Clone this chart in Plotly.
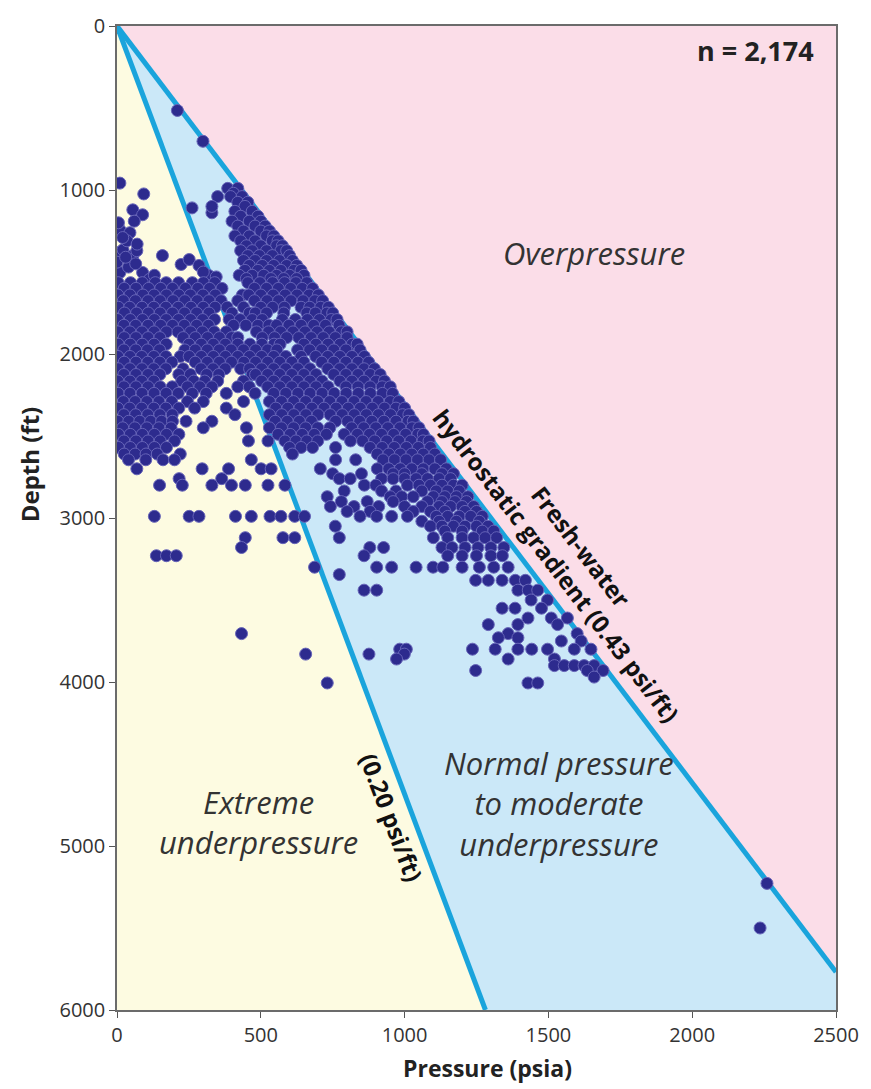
import plotly.graph_objects as go

# ---------------- data ----------------
x_ticks = [0, 500, 1000, 1500, 2000, 2500]
y_ticks = [0, 1000, 2000, 3000, 4000, 5000, 6000]
hydro_gradient = 0.4334   # psi/ft, fresh-water hydrostatic line as drawn
low_gradient = 0.2135     # psi/ft, line labelled (0.20 psi/ft) as drawn
p_max = 2500
d_max = 6000

# isolated shallow points (pressure psia, depth ft)
shallow_pts = [(210, 515), (299, 703), (10, 958), (93, 1024), (55, 1121), (89, 1151),
               (10, 1242), (45, 1260), (0, 1382), (21, 1364), (55, 1400), (69, 1370),
               (158, 1400), (223, 1454), (251, 1424), (285, 1460), (319, 1521), (10, 1503),
               (89, 1503), (113, 1545), (261, 1109), (330, 1139), (35, 1310), (0, 1440),
               (40, 1470), (60, 1190), (300, 1500), (345, 1530), (20, 1290), (70, 1330),
               (5, 1200), (30, 1410), (65, 1450), (130, 1520)]

# wedge just left of the hydrostatic line (depth, pressures)
wedge_rows = [(990, [385, 420]), (1020, [405]), (1040, [350, 395, 435]), (1075, [420, 455]),
              (1100, [330, 445]), (1130, [410, 470]), (1160, [430, 490]), (1190, [400, 460, 500]),
              (1220, [420, 480, 515]), (1250, [440, 500, 530]), (1280, [410, 460, 520, 545]),
              (1310, [430, 480, 540, 560]), (1340, [450, 500, 555, 575]),
              (1370, [430, 470, 520, 570, 590]), (1400, [455, 495, 540, 600]),
              (1430, [440, 480, 520, 565, 610]), (1460, [460, 505, 545, 590, 625]),
              (1490, [445, 490, 530, 570, 615, 640]), (1520, [425, 470, 510, 555, 600, 650]),
              (1540, [450, 535, 580, 625])]

# dense core 1565-2240 ft
core_rows = [
    (1565, [4, 47, 88, 133, 171, 214, 262, 301, 340, 455, 497, 541, 583, 622, 660]),
    (1600, [25, 66, 110, 152, 193, 238, 281, 322, 365, 478, 520, 561, 604, 644, 680]),
    (1640, [3, 45, 90, 129, 172, 215, 255, 299, 342, 436, 458, 500, 543, 585, 626, 668, 700]),
    (1675, [22, 64, 108, 150, 195, 236, 279, 320, 362, 420, 478, 522, 562, 605, 647, 688, 715]),
    (1715, [5, 44, 87, 128, 170, 213, 257, 300, 341, 383, 440, 500, 541, 582, 640, 670, 708, 735]),
    (1750, [26, 68, 109, 150, 193, 235, 277, 320, 400, 460, 481, 520, 580, 660, 690, 730, 750]),
    (1790, [2, 46, 89, 130, 171, 214, 256, 298, 339, 390, 428, 470, 505, 575, 620, 662, 704, 745, 765]),
    (1825, [24, 65, 108, 152, 193, 234, 277, 318, 405, 448, 490, 528, 555, 598, 640, 684, 725, 772]),
    (1865, [3, 45, 87, 129, 172, 212, 256, 297, 338, 380, 485, 527, 569, 612, 654, 696, 738, 780, 800]),
    (1900, [25, 66, 108, 149, 230, 272, 315, 356, 398, 420, 505, 548, 590, 632, 675, 717, 759, 800]),
    (1940, [4, 46, 88, 129, 171, 250, 293, 335, 377, 420, 462, 504, 546, 567, 650, 692, 734, 776, 818, 835]),
    (1975, [24, 65, 106, 148, 236, 272, 314, 356, 397, 440, 482, 524, 556, 628, 670, 712, 754, 796, 845]),
    (2015, [3, 45, 86, 128, 170, 220, 251, 293, 335, 377, 420, 461, 503, 545, 587, 640, 691, 733, 775, 817, 860]),
    (2050, [25, 66, 107, 149, 191, 272, 314, 356, 398, 441, 482, 524, 566, 608, 650, 712, 754, 796, 838, 875]),
    (2090, [4, 45, 87, 128, 170, 230, 292, 334, 376, 430, 461, 503, 545, 587, 629, 671, 733, 775, 817, 859, 895]),
    (2125, [24, 66, 108, 149, 215, 255, 312, 354, 470, 482, 524, 566, 608, 650, 692, 754, 796, 838, 880, 915]),
    (2165, [3, 45, 86, 128, 225, 267, 305, 350, 440, 503, 545, 587, 629, 671, 713, 775, 817, 859, 901, 930]),
    (2200, [24, 66, 108, 150, 192, 245, 288, 330, 420, 460, 524, 566, 608, 650, 692, 734, 796, 838, 880, 922, 950]),
    (2240, [4, 45, 87, 129, 171, 213, 262, 310, 380, 480, 545, 587, 629, 671, 713, 755, 797, 839, 881, 923, 958]),
]

# 2290-2645 ft: left column + band right of the 0.20 line
lower_rows = [
    (2290, [22, 63, 104, 146, 190, 245, 300, 440, 530, 572, 614, 656, 698, 740, 782, 824, 866, 908, 950, 980]),
    (2330, [3, 44, 86, 128, 170, 215, 270, 380, 552, 594, 636, 678, 720, 762, 804, 846, 888, 930, 970, 1000]),
    (2370, [24, 65, 107, 149, 192, 410, 530, 573, 615, 657, 699, 741, 783, 825, 867, 909, 951, 993, 1015]),
    (2410, [3, 41, 79, 117, 155, 193, 240, 330, 550, 592, 634, 676, 760, 802, 844, 886, 928, 970, 1012, 1030]),
    (2450, [20, 62, 104, 146, 188, 300, 450, 530, 572, 614, 656, 698, 740, 816, 858, 900, 942, 984, 1026, 1050]),
    (2490, [5, 46, 88, 130, 172, 215, 560, 602, 644, 686, 728, 790, 836, 878, 920, 962, 1004, 1046, 1065]),
    (2530, [24, 66, 108, 150, 200, 457, 525, 584, 622, 660, 698, 812, 854, 896, 938, 980, 1022, 1064, 1085]),
    (2570, [5, 46, 88, 130, 172, 600, 640, 680, 760, 880, 922, 964, 1006, 1048, 1090]),
    (2610, [25, 63, 101, 140, 220, 610, 905, 945, 985, 1025, 1065, 1105]),
    (2645, [40, 100, 160, 200, 467, 760, 830, 925, 965, 1005, 1045, 1085, 1125]),
]

# deeper, sparser points
deep_rows = [
    (2700, [69, 296, 388, 501, 536, 707, 905, 945, 985, 1025, 1065, 1105, 1145]),
    (2730, [750, 850, 960, 1000, 1060, 1130, 1170]),
    (2760, [216, 364, 773, 811, 920, 960, 1000, 1040, 1080, 1120, 1160]),
    (2800, [148, 227, 330, 398, 446, 525, 584, 860, 900, 1010, 1050, 1090, 1130, 1170, 1200]),
    (2835, [790, 920, 970, 1060, 1110, 1150, 1190]),
    (2870, [731, 950, 990, 1030, 1100, 1140, 1180, 1220]),
    (2900, [780, 870, 960, 1080, 1130, 1175, 1215]),
    (2930, [742, 824, 910, 1000, 1060, 1120, 1160, 1200, 1240]),
    (2960, [800, 880, 1030, 1090, 1140, 1210, 1250]),
    (2990, [130, 251, 285, 412, 467, 532, 570, 618, 652, 845, 903, 955, 1010, 1110, 1150, 1190, 1230, 1270]),
    (3020, [1060, 1120, 1180, 1260]),
    (3050, [759, 1090, 1130, 1170, 1210, 1250, 1290]),
    (3080, [1140, 1200, 1270, 1310]),
    (3120, [446, 577, 618, 773, 1100, 1150, 1200, 1240, 1280, 1320]),
    (3180, [433, 879, 927, 1130, 1165, 1210, 1255, 1300, 1345]),
    (3230, [137, 172, 206, 859, 1150, 1200, 1250, 1300, 1340]),
    (3300, [687, 903, 955, 1040, 1099, 1133, 1200, 1260, 1310, 1360]),
    (3345, [773]),
    (3380, [1247, 1291, 1339, 1385, 1420]),
    (3440, [859, 903, 1394, 1430, 1463]),
    (3500, [1440, 1497]),
    (3550, [1339, 1384, 1476]),
    (3610, [1429, 1510, 1566]),
    (3650, [1291, 1394, 1532]),
    (3705, [433, 1360, 1600]),
    (3730, [1326, 1394]),
    (3750, [1545, 1614]),
    (3800, [983, 1006, 1236, 1315, 1394, 1442, 1497, 1590, 1648]),
    (3830, [656, 876, 999]),
    (3860, [972, 1360, 1521]),
    (3900, [1521, 1555, 1590, 1624, 1659]),
    (3930, [1247, 1635, 1690]),
    (3970, [1659]),
    (4006, [731, 1429, 1463]),
]

far_pts = [(2260, 5228), (2236, 5500)]

# ---------------- assemble ----------------
pressure, depth = [], []
for p, d in shallow_pts + far_pts:
    pressure.append(p)
    depth.append(d)
for rows in (wedge_rows, core_rows, lower_rows, deep_rows):
    for d, ps in rows:
        for p in ps:
            pressure.append(p)
            depth.append(d)

d_hydro_edge = p_max / hydro_gradient
p_low_bottom = d_max * low_gradient

PINK = "#fbdde8"
BLUE = "#cbe8f8"
YELLOW = "#fdfbe1"
LINE = "#1aa4dc"
DOT = "#2d2b8e"
FONT = "'Open Sans', Lato, sans-serif"

W, H = 871, 1089
ML, MR, MT, MB = 117, 26, 22, 79


def px_to_paper(px, py):
    return (px - ML) / (W - ML - MR), 1 - (py - MT) / (H - MT - MB)


fig = go.Figure()
fig.add_trace(go.Scatter(x=[0, p_max, p_max, 0], y=[0, 0, d_hydro_edge, 0], fill="toself",
                         fillcolor=PINK, line=dict(width=0), mode="lines", hoverinfo="skip"))
fig.add_trace(go.Scatter(x=[0, p_max, p_max, p_low_bottom, 0], y=[0, d_hydro_edge, d_max, d_max, 0],
                         fill="toself", fillcolor=BLUE, line=dict(width=0), mode="lines", hoverinfo="skip"))
fig.add_trace(go.Scatter(x=[0, p_low_bottom, 0, 0], y=[0, d_max, d_max, 0], fill="toself",
                         fillcolor=YELLOW, line=dict(width=0), mode="lines", hoverinfo="skip"))
fig.add_trace(go.Scatter(x=[0, p_max], y=[0, d_hydro_edge], mode="lines",
                         line=dict(color=LINE, width=5), hoverinfo="skip"))
fig.add_trace(go.Scatter(x=[0, p_low_bottom], y=[0, d_max], mode="lines",
                         line=dict(color=LINE, width=5), hoverinfo="skip"))
fig.add_trace(go.Scatter(x=pressure, y=depth, mode="markers",
                         marker=dict(size=12, color=DOT, line=dict(color="#6664b8", width=1))))

region_font = dict(family=FONT, size=31, color="#333")
centered = dict(showarrow=False, xanchor="center", yanchor="middle")
fig.add_annotation(x=1659, y=1384, text="<i>Overpressure</i>", font=region_font, **centered)
fig.add_annotation(x=491, y=4851, text="<i>Extreme<br>underpressure</i>", font=region_font, **centered)
fig.add_annotation(x=1538, y=4742, text="<i>Normal pressure<br>to moderate<br>underpressure</i>",
                   font=region_font, **centered)
fig.add_annotation(x=1572, y=3230, text="<b>Fresh-water<br>hydrostatic gradient (0.43 psi/ft)</b>",
                   textangle=52.5, font=dict(family=FONT, size=24, color="#111"), **centered)
fig.add_annotation(x=955, y=4827, text="<b>(0.20 psi/ft)</b>", textangle=69.3,
                   font=dict(family=FONT, size=24, color="#111"), **centered)

nx, ny = px_to_paper(825, 47)
fig.add_annotation(x=nx, y=ny, xref="paper", yref="paper", text="<b>n = 2,174</b>",
                   font=dict(family=FONT, size=27, color="#222"), showarrow=False,
                   xanchor="right", yanchor="middle")
tx, ty = px_to_paper(492, 1068)
fig.add_annotation(x=tx, y=ty, xref="paper", yref="paper", text="<b>Pressure (psia)</b>",
                   font=dict(family=FONT, size=23, color="#222"), **centered)
yx, yy = px_to_paper(28, 462)
fig.add_annotation(x=yx, y=yy, xref="paper", yref="paper", text="<b>Depth (ft)</b>", textangle=-90,
                   font=dict(family=FONT, size=24, color="#222"), **centered)

axis_common = dict(showgrid=False, zeroline=False, showline=True, linecolor="#6b6b6b", linewidth=1.5,
                   mirror=True, ticks="outside", ticklen=6, tickcolor="#555",
                   tickfont=dict(family=FONT, size=20, color="#333"))
fig.update_xaxes(range=[0, p_max], tickvals=x_ticks, ticktext=[str(v) for v in x_ticks], **axis_common)
fig.update_yaxes(range=[d_max, 0], tickvals=y_ticks, ticktext=[str(v) for v in y_ticks], **axis_common)

fig.update_layout(width=W, height=H, margin=dict(l=ML, r=MR, t=MT, b=MB),
                  paper_bgcolor="white", plot_bgcolor="white", showlegend=False)
fig.write_html("out.html")
